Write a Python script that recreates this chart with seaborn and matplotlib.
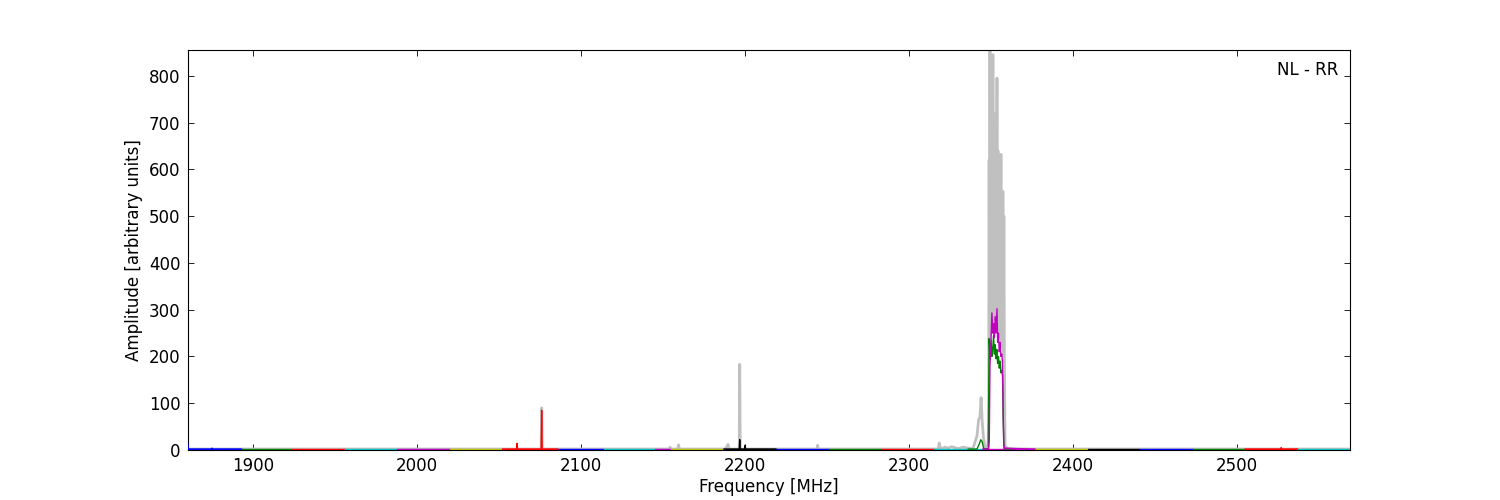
import matplotlib
matplotlib.use("Agg")
import matplotlib.pyplot as plt
import seaborn as sns

# baseline sub-bands (edges in MHz) and their colours
seg_edges = [1860, 1893, 1924, 1956, 1988, 2020, 2052, 2086, 2114, 2145, 2155, 2187,
             2219, 2251, 2283, 2315, 2345, 2377, 2409, 2441, 2473, 2505, 2537, 2569]
seg_colors = ['b', 'g', 'r', 'c', 'm', 'y', 'r', 'b', 'c', 'm', 'y', 'k',
              'b', 'g', 'r', 'c', 'm', 'y', 'k', 'b', 'g', 'r', 'c']
seg_level = [2, 2, 2, 2, 2, 2, 2, 2, 2, 2, 2, 2,
             2, 2, 2, 2, 2, 2, 2, 2, 2, 2, 2]

# gray trace (all bands overlaid)
gray_f = [1860, 2060, 2075.7, 2076.0, 2076.3, 2078, 2150, 2153.7, 2154.3, 2154.9, 2159.0,
          2159.5, 2160.0, 2188, 2189.7, 2190.2, 2190.7, 2196.5, 2196.8, 2197.1, 2243.9,
          2244.3, 2244.7, 2317.8, 2318.5, 2319.2, 2322, 2324, 2326, 2330, 2333, 2336, 2339,
          2341.5, 2342.5, 2343.3, 2344, 2344.7, 2345.5, 2346.5, 2348.2,
          2348.6, 2348.9, 2349.2, 2349.4, 2349.7, 2350.0, 2350.3, 2350.6, 2350.9, 2351.2,
          2351.5, 2351.8, 2352.1, 2352.4, 2352.7, 2353.0, 2353.3, 2353.7, 2354.0, 2354.3,
          2354.6, 2354.9, 2355.2, 2355.5, 2355.8, 2356.1, 2356.4, 2356.7, 2357.0, 2357.3,
          2357.6, 2357.9, 2358.2, 2358.6, 2360, 2375, 2569]
gray_a = [2, 2, 2, 90, 2, 2, 2, 2, 6, 2, 2,
          11, 2, 2, 12, 3, 2, 2, 183, 2, 2,
          10, 2, 2, 15, 2, 6, 4, 7, 3, 6, 4, 3,
          30, 65, 70, 112, 60, 25, 5, 10,
          60, 620, 240, 900, 260, 720, 250, 680, 270, 845,
          280, 700, 300, 650, 280, 720, 300, 795, 260, 640,
          280, 600, 250, 560, 240, 632, 230, 540, 220, 553,
          200, 500, 200, 10, 3, 2, 2]

# detailed coloured traces
red_f = [2052, 2060.7, 2061.0, 2061.3, 2075.7, 2076.0, 2076.3, 2086]
red_a = [2, 2, 14, 2, 2, 85, 2, 2]
blue_f = [1860.1, 1860.4, 1860.8, 1874.7, 1875, 1875.3, 1893]
blue_a = [15, 4, 2, 2, 4, 2, 2]
black_f = [2187, 2196.5, 2196.8, 2197.1, 2199.8, 2200.1, 2200.4, 2219]
black_a = [2, 2, 22, 2, 2, 10, 2, 2]
green_f = [2336, 2341.5, 2342.8, 2343.8, 2344.6, 2345.6, 2348.4,
           2348.9, 2349.5, 2350.1, 2350.6, 2351.1, 2351.6, 2352.1, 2352.6, 2353.1,
           2353.6, 2354.1, 2354.6, 2355.1, 2355.6, 2356.1, 2356.6, 2357.1, 2357.5,
           2358.0, 2362]
green_a = [2, 2, 12, 22, 18, 3, 2,
           238, 195, 235, 200, 215, 245, 205, 225, 195,
           215, 185, 200, 175, 190, 165, 170, 160, 60,
           3, 2]
magenta_f = [2345, 2348.6, 2349.0, 2349.4, 2350.0, 2350.6, 2351.1, 2351.6, 2352.1,
             2352.6, 2353.1, 2353.7, 2354.1, 2354.6, 2355.1, 2355.6, 2356.1, 2356.6,
             2357.0, 2357.4, 2357.8, 2358.5, 2365, 2377]
magenta_a = [2, 2, 20, 180, 230, 293, 250, 270, 240,
             285, 250, 302, 230, 250, 210, 230, 200, 205,
             190, 110, 10, 4, 3, 2]
red2_f = [2505, 2526.7, 2527, 2527.3, 2537]
red2_a = [2, 2, 5, 2, 2]

sns.set_style("white", {
    "xtick.direction": "in", "ytick.direction": "in",
    "xtick.top": True, "ytick.right": True,
    "xtick.bottom": True, "ytick.left": True,
    "axes.edgecolor": "black", "axes.linewidth": 1.0,
    "text.color": "black", "axes.labelcolor": "black",
    "xtick.color": "black", "ytick.color": "black",
})
plt.rcParams['font.family'] = ['DejaVu Sans']
plt.rcParams['font.size'] = 12

fig = plt.figure(figsize=(15, 5), dpi=100)
ax = fig.add_axes([0.125, 0.1, 0.775, 0.8])

sns.lineplot(x=gray_f, y=gray_a, color='#c0c0c0', lw=2.0, sort=False, estimator=None, ax=ax)
for i, c in enumerate(seg_colors):
    sns.lineplot(x=[seg_edges[i], seg_edges[i + 1]], y=[seg_level[i], seg_level[i]],
                 color=c, lw=1.0, sort=False, estimator=None, ax=ax, zorder=3)
for fx, ay, c in [(blue_f, blue_a, 'b'), (red_f, red_a, 'r'), (black_f, black_a, 'k'),
                  (red2_f, red2_a, 'r'), (green_f, green_a, 'g'), (magenta_f, magenta_a, 'm')]:
    sns.lineplot(x=fx, y=ay, color=c, lw=1.0, sort=False, estimator=None, ax=ax, zorder=3)

ax.set_xlim(1860, 2569)
ax.set_ylim(0, 855)
ax.set_xticks([1900, 2000, 2100, 2200, 2300, 2400, 2500])
ax.set_yticks(range(0, 801, 100))
ax.tick_params(length=4, width=0.6, labelsize=12, colors='black', pad=5)
ax.set_xlabel('Frequency [MHz]', fontsize=12, labelpad=2)
ax.set_ylabel('Amplitude [arbitrary units]', fontsize=12)
ax.text(0.99, 0.95, 'NL - RR', transform=ax.transAxes, ha='right', va='center', fontsize=12)

fig.savefig('out.png', dpi=100, facecolor='white')
